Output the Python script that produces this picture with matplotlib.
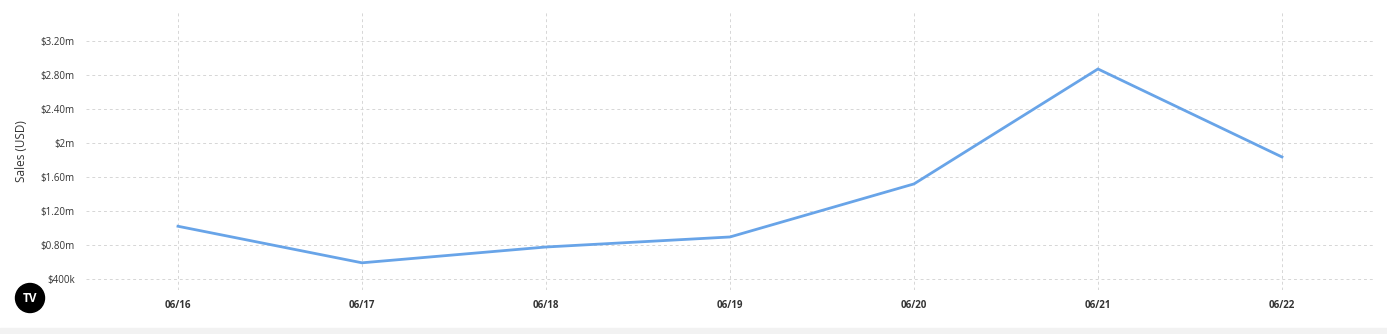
import numpy as np
import matplotlib.pyplot as plt
from matplotlib.patches import Circle, Rectangle

# data
dates = ["06/16", "06/17", "06/18", "06/19", "06/20", "06/21", "06/22"]
sales = [1.02, 0.59, 0.776, 0.894, 1.518, 2.87, 1.835]  # millions USD

ytick_vals = [0.4, 0.8, 1.2, 1.6, 2.0, 2.4, 2.8, 3.2]
ytick_labels = ["$400k", "$0.80m", "$1.20m", "$1.60m", "$2m", "$2.40m", "$2.80m", "$3.20m"]

plt.rcParams['font.family'] = ['Open Sans', 'DejaVu Sans']

fig = plt.figure(figsize=(13.87, 3.34), dpi=100)
ax = fig.add_axes([0.062, 0.1317, 0.9286, 0.8323])

x = np.arange(len(dates))
ax.plot(x, sales, color='#68a4e8', linewidth=2.0, solid_joinstyle='miter')

ax.set_xlim(-0.5, len(dates) - 0.5)
ax.set_ylim(0.27, 3.54)
ax.set_xticks(x)
ax.set_xticklabels(dates, fontsize=7, fontweight='bold', color='#333333')
ax.set_yticks(ytick_vals)
ax.set_yticklabels(ytick_labels, fontsize=7, color='#333333')
ax.tick_params(length=0, pad=8)
ax.tick_params(axis='x', pad=7)

ax.grid(True, color='#d6d6d6', linestyle=(0, (3, 3)), linewidth=0.7)
ax.set_axisbelow(True)
for s in ax.spines.values():
    s.set_visible(False)

ax.set_ylabel("Sales (USD)", fontsize=8.5, color='#333333', labelpad=9)

# logo badge (display coords, origin bottom-left)
logo = Circle((30, 334 - 298), 14.5, transform=None, color='black')
fig.patches.append(logo)
fig.text(30 / 1387, 1 - 298 / 334, "TV", color='white', fontsize=8.5, fontweight='bold',
         ha='center', va='center', zorder=5)

# bottom strip
fig.patches.append(Rectangle((0, 0), 1, 6 / 334, transform=fig.transFigure,
                             color='#f2f2f2', zorder=0))

fig.savefig("out.png", dpi=100)
